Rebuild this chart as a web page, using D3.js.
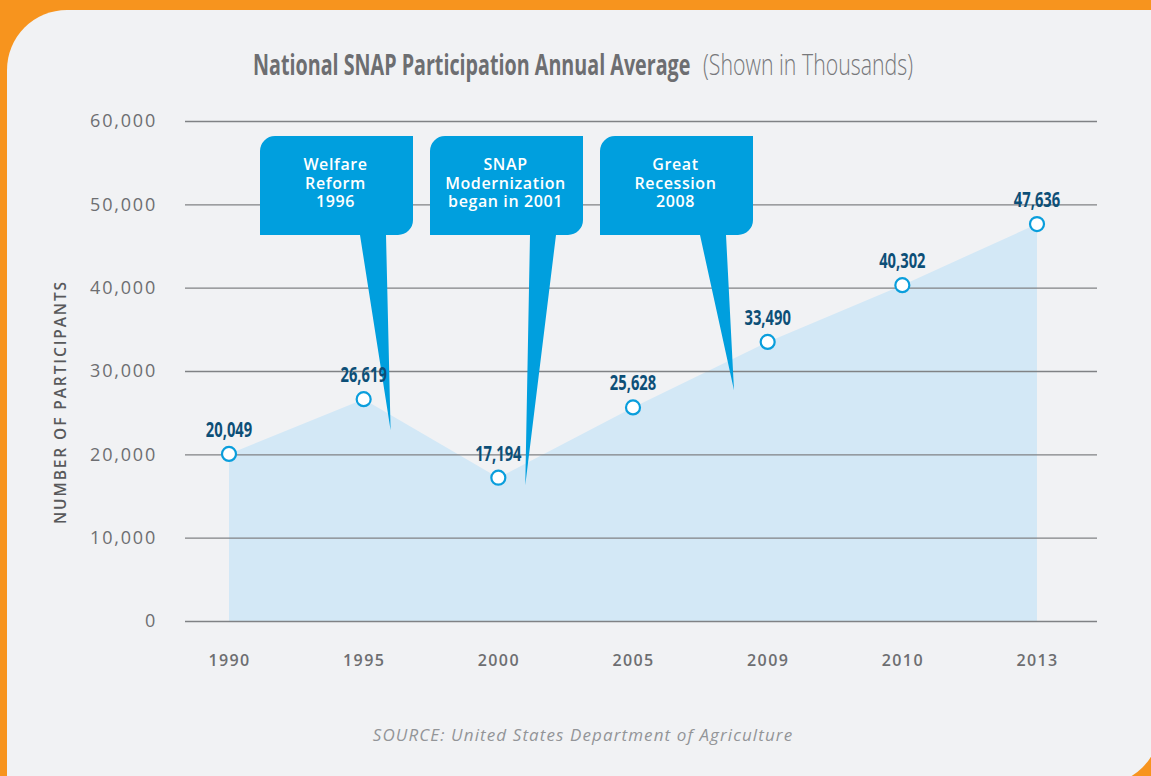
<!DOCTYPE html>
<html>
<head>
<meta charset="utf-8">
<script src="https://cdn.jsdelivr.net/npm/d3@7"></script>
<style>
  html, body { margin: 0; padding: 0; background: #F7941E; }
  svg { display: block; }
</style>
</head>
<body>
<div id="chart-area"></div>
<script>
// data (thousands of participants)
var years = ["1990", "1995", "2000", "2005", "2009", "2010", "2013"];
var participants = [20049, 26619, 17194, 25628, 33490, 40302, 47636];
var yTicks = [0, 10000, 20000, 30000, 40000, 50000, 60000];

// callouts
var noteYears = [1996, 2001, 2008];
var noteLines = [
    ["Welfare", "Reform", "1996"],
    ["SNAP", "Modernization", "began in 2001"],
    ["Great", "Recession", "2008"]
];
var noteTips = [22900, 16300, 27700];

var W = 1151, H = 776;
var margin = {left: 185, top: 121, right: 54, bottom: 155};
var width = W - margin.left - margin.right,
    height = H - margin.top - margin.bottom;

var svg = d3.select("#chart-area")
    .append("svg")
        .attr("width", W)
        .attr("height", H);

// orange frame + grey panel (rounded top-left and bottom-right)
svg.append("rect")
    .attr("width", W).attr("height", H)
    .attr("fill", "#F7941E");

var p = d3.path();
var px0 = 7, py0 = 10, px1 = 1160, py1 = 785, r = 60;
p.moveTo(px0 + r, py0);
p.lineTo(px1, py0);
p.lineTo(px1, py1 - r);
p.arcTo(px1, py1, px1 - r, py1, r);
p.lineTo(px0, py1);
p.lineTo(px0, py0 + r);
p.arcTo(px0, py0, px0 + r, py0, r);
p.closePath();
svg.append("path")
    .attr("d", p.toString())
    .attr("fill", "#F1F2F4");

// title (condensed look via horizontal scale)
svg.append("text")
    .attr("transform", "translate(253,75) scale(0.68,1)")
    .attr("font-family", "'Open Sans', sans-serif")
    .attr("font-weight", "bold")
    .attr("font-size", 29)
    .attr("fill", "#6D6E71")
    .text("National SNAP Participation Annual Average");

svg.append("text")
    .attr("transform", "translate(913,75) scale(0.735,1)")
    .attr("text-anchor", "end")
    .attr("font-family", "'Open Sans', sans-serif")
    .attr("font-weight", 300)
    .attr("font-size", 29)
    .attr("fill", "#77787B")
    .text("(Shown in Thousands)");

var g = svg.append("g")
    .attr("transform", "translate(" + margin.left + ", " + margin.top + ")");

var x = d3.scalePoint()
    .domain(years)
    .range([44, 852]);

var y = d3.scaleLinear()
    .domain([0, 60000])
    .range([height, 0]);

// area
var data = years.map((d, i) => ({year: d, value: participants[i]}));

var area = d3.area()
    .x(d => x(d.year))
    .y0(y(0))
    .y1(d => y(d.value));

g.append("path")
    .datum(data)
    .attr("d", area)
    .attr("fill", "#D3E8F6");

// y axis with gridlines
var yAxis = d3.axisLeft(y)
    .tickValues(yTicks)
    .tickSize(-width)
    .tickPadding(28)
    .tickFormat(d3.format(","));

var yAxisGroup = g.append("g")
    .attr("class", "y axis")
    .call(yAxis);
yAxisGroup.select(".domain").remove();
yAxisGroup.selectAll("line")
    .attr("stroke", "#808285")
    .attr("stroke-width", 1.3);
yAxisGroup.selectAll("text")
    .attr("font-family", "'Open Sans', sans-serif")
    .attr("font-weight", 400)
    .attr("font-size", 18)
    .attr("letter-spacing", 1.8)
    .attr("fill", "#6D6E71");

g.append("text")
    .attr("transform", "rotate(-90)")
    .attr("x", -(402 - margin.top))
    .attr("y", 60 - margin.left + 6)
    .attr("text-anchor", "middle")
    .attr("font-family", "'Open Sans', sans-serif")
    .attr("font-weight", 600)
    .attr("font-size", 15.5)
    .attr("letter-spacing", 1.9)
    .attr("fill", "#58595B")
    .text("NUMBER OF PARTICIPANTS");

// x axis labels
var xAxis = d3.axisBottom(x)
    .tickSize(0)
    .tickPadding(34);
var xAxisGroup = g.append("g")
    .attr("class", "x axis")
    .attr("transform", "translate(0, " + height + ")")
    .call(xAxis);
xAxisGroup.select(".domain").remove();
xAxisGroup.selectAll("text")
    .attr("font-family", "'Open Sans', sans-serif")
    .attr("font-weight", 600)
    .attr("font-size", 16)
    .attr("letter-spacing", 1.4)
    .attr("fill", "#6D6E71");

// callouts
function yearToX(yr) {
    var nums = years.map(Number);
    for (var i = 0; i < nums.length - 1; i++) {
        if (yr >= nums[i] && yr <= nums[i + 1]) {
            var t = (yr - nums[i]) / (nums[i + 1] - nums[i]);
            return x(years[i]) + t * x.step();
        }
    }
    return x(years[0]);
}

var boxW = 153, boxH = 99, boxTop = 136 - margin.top, rr = 15;
noteYears.forEach((yr, i) => {
    var bx = 75 + i * 170;
    var tipX = yearToX(yr), tipY = y(noteTips[i]);
    var b = d3.path();
    b.moveTo(bx + rr, boxTop);
    b.lineTo(bx + boxW, boxTop);
    b.lineTo(bx + boxW, boxTop + boxH - rr);
    b.arcTo(bx + boxW, boxTop + boxH, bx + boxW - rr, boxTop + boxH, rr);
    b.lineTo(bx + 126, boxTop + boxH);
    b.lineTo(tipX, tipY);
    b.lineTo(bx + 100, boxTop + boxH);
    b.lineTo(bx, boxTop + boxH);
    b.lineTo(bx, boxTop + rr);
    b.arcTo(bx, boxTop, bx + rr, boxTop, rr);
    b.closePath();
    g.append("path")
        .attr("d", b.toString())
        .attr("fill", "#009FDE");

    g.selectAll(null)
        .data(noteLines[i])
        .enter()
        .append("text")
            .attr("x", bx + boxW / 2 - 1)
            .attr("y", (d, j) => boxTop + 34 + j * 18.5)
            .attr("text-anchor", "middle")
            .attr("font-family", "'Open Sans', sans-serif")
            .attr("font-weight", 600)
            .attr("font-size", 16)
            .attr("letter-spacing", 0.6)
            .attr("fill", "#FFFFFF")
            .text(d => d);
});

// points + labels
g.selectAll("circle.pt")
    .data(data)
    .enter()
    .append("circle")
        .attr("class", "pt")
        .attr("cx", d => x(d.year))
        .attr("cy", d => y(d.value))
        .attr("r", 7)
        .attr("fill", "#FFFFFF")
        .attr("stroke", "#0A9EDC")
        .attr("stroke-width", 2.2);

g.selectAll("text.val")
    .data(data)
    .enter()
    .append("text")
        .attr("class", "val")
        .attr("transform", d => "translate(" + x(d.year) + "," + (y(d.value) - 17) + ") scale(0.67,1)")
        .attr("text-anchor", "middle")
        .attr("font-family", "'Open Sans', sans-serif")
        .attr("font-weight", "bold")
        .attr("font-size", 22)
        .attr("fill", "#0D4F77")
        .text(d => d3.format(",")(d.value));

// source
svg.append("text")
    .attr("x", 583)
    .attr("y", 741)
    .attr("text-anchor", "middle")
    .attr("font-family", "'Open Sans', sans-serif")
    .attr("font-style", "italic")
    .attr("font-size", 17)
    .attr("letter-spacing", 1.1)
    .attr("fill", "#939598")
    .text("SOURCE: United States Department of Agriculture");
</script>
</body>
</html>
